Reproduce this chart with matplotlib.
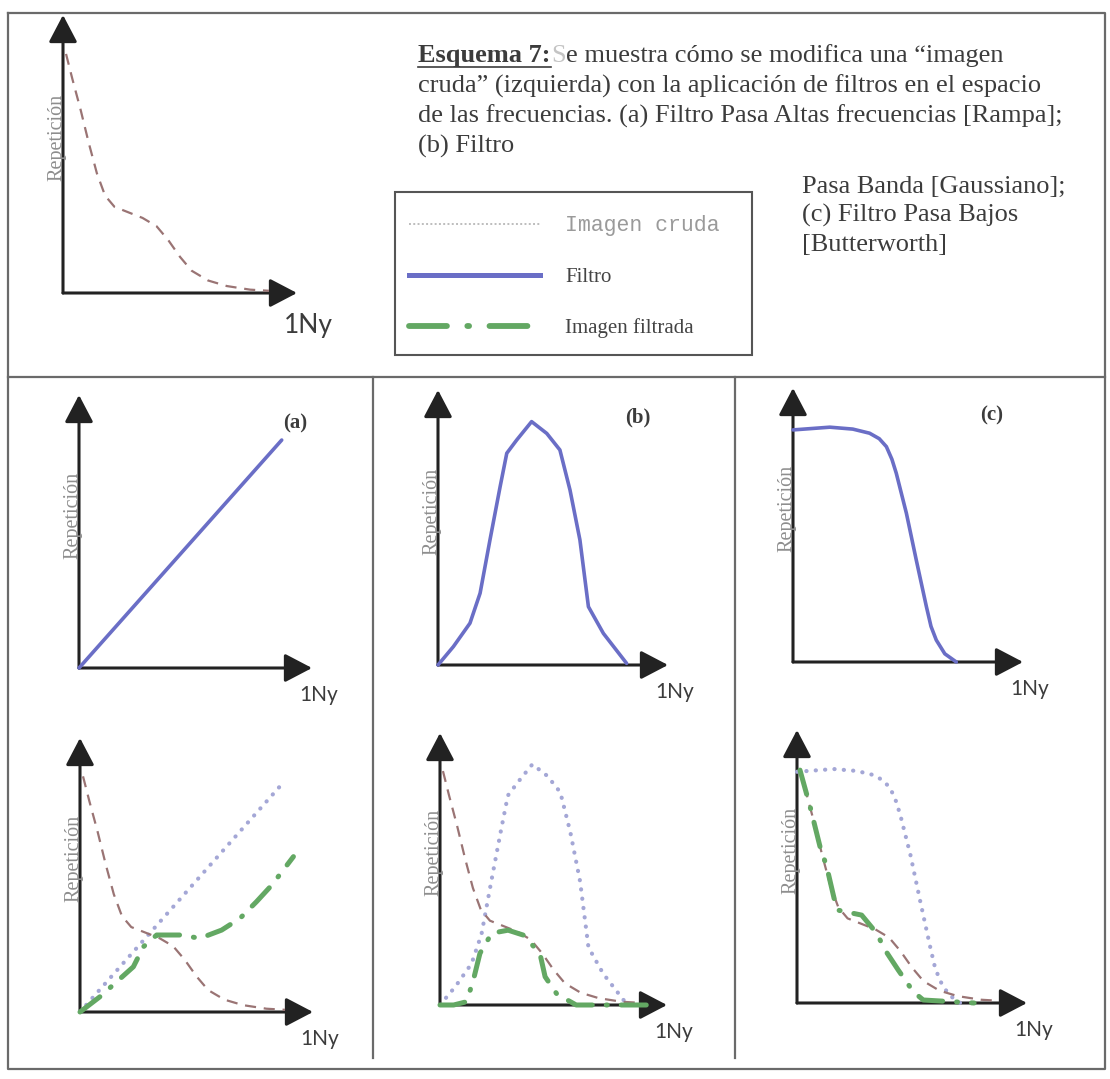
import matplotlib
matplotlib.use("Agg")
import matplotlib.pyplot as plt
from matplotlib.lines import Line2D
from matplotlib.patches import Rectangle
from matplotlib.transforms import offset_copy

# ---- data: x as fraction of the 1Ny axis, y as fraction of the Repeticion axis ----
raw_x = [0.013, 0.04, 0.075, 0.11, 0.145, 0.18, 0.22, 0.28, 0.34, 0.40, 0.45, 0.50, 0.55, 0.62, 0.70, 0.80, 0.88]
raw_y = [0.86, 0.77, 0.66, 0.54, 0.43, 0.35, 0.31, 0.29, 0.27, 0.24, 0.19, 0.13, 0.08, 0.045, 0.025, 0.012, 0.008]

# filters (top row)
ramp_x = [0.0, 0.87]
ramp_y = [0.0, 0.835]
gauss_x = [0.0, 0.067, 0.139, 0.183, 0.226, 0.27, 0.299, 0.342, 0.407, 0.473, 0.53, 0.574, 0.617, 0.654, 0.719, 0.82]
gauss_y = [0.0, 0.067, 0.152, 0.261, 0.455, 0.648, 0.77, 0.818, 0.885, 0.842, 0.782, 0.636, 0.455, 0.212, 0.115, 0.006]
butter_x = [0.0, 0.16, 0.26, 0.333, 0.375, 0.406, 0.43, 0.449, 0.493, 0.536, 0.58, 0.60, 0.623, 0.66, 0.71]
butter_y = [0.847, 0.857, 0.85, 0.835, 0.815, 0.786, 0.74, 0.689, 0.543, 0.372, 0.202, 0.13, 0.08, 0.03, 0.0]

# filtered images (bottom row)
filt_a_x = [0.0, 0.086, 0.229, 0.272, 0.329, 0.429, 0.515, 0.608, 0.687, 0.758, 0.823, 0.916]
filt_a_y = [0.0, 0.056, 0.165, 0.238, 0.281, 0.281, 0.269, 0.299, 0.342, 0.403, 0.463, 0.567]
filt_b_x = [0.0, 0.06, 0.117, 0.147, 0.176, 0.228, 0.30, 0.367, 0.44, 0.463, 0.515, 0.60, 0.75, 0.95]
filt_b_y = [0.0, 0.0, 0.012, 0.092, 0.19, 0.264, 0.275, 0.257, 0.19, 0.104, 0.04, 0.0, 0.0, 0.0]
filt_c_x = [0.013, 0.057, 0.1, 0.129, 0.173, 0.281, 0.347, 0.383, 0.44, 0.506, 0.549, 0.77]
filt_c_y = [0.853, 0.719, 0.573, 0.5, 0.341, 0.322, 0.255, 0.194, 0.121, 0.041, 0.011, 0.0]

panel_labels = ["(a)", "(b)", "(c)"]
y_label = "Repetición"
x_label = "1Ny"
legend_labels = ["Imagen cruda", "Filtro", "Imagen filtrada"]
caption_rest = [
    "cruda\u201d (izquierda) con la aplicación de filtros en el espacio",
    "de las frecuencias. (a) Filtro Pasa Altas frecuencias [Rampa];",
    "(b) Filtro",
]
side_lines = ["Pasa Banda [Gaussiano];", "(c) Filtro Pasa Bajos", "[Butterworth]"]

# ---- styles ----
RAW = dict(color="#9a7474", lw=1.6, ls=(0, (5, 3.5)), zorder=4)
FILT = dict(color="#6a6ec6", lw=2.6, solid_capstyle="round", zorder=5)
FILT_DOT = dict(color="#a4a7d6", lw=3.0, ls=(0, (0.05, 2.2)), dash_capstyle="round", zorder=4)
GREEN = dict(color="#63a863", lw=3.6, ls=(0, (5, 2.8, 0.2, 2.8)), dash_capstyle="round", zorder=6)
TXT = "#3c3c3c"
SERIF = "Liberation Serif"

W, H = 1110, 1079
fig = plt.figure(figsize=(W / 100, H / 100), dpi=100)
base = fig.add_axes([0, 0, 1, 1])
base.set_xlim(0, W)
base.set_ylim(H, 0)
base.axis("off")

# frame
fc = dict(color="#6a6a6a", lw=1.6)
base.plot([8, 1105, 1105, 8, 8], [13, 13, 1069, 1069, 13], **fc)
base.plot([8, 1105], [377, 377], **fc)
base.plot([373, 373], [377, 1058], **fc)
base.plot([735, 735], [377, 1058], **fc)


def mini_axes(ox, oy, xt, yt, nyx=26, nyy=-27, nysize=15):
    ax = fig.add_axes([ox / W, 1 - oy / H, (xt - ox) / W, (oy - yt) / H])
    ax.set_xlim(0, 1)
    ax.set_ylim(0, 1)
    ax.axis("off")
    ap = dict(arrowstyle="-|>,head_length=1.05,head_width=0.55", mutation_scale=16,
              lw=2.2, color="#222222", shrinkA=0, shrinkB=0)
    ax.annotate("", xy=(1, 0), xytext=(0, 0), xycoords="axes fraction", arrowprops=ap)
    ax.annotate("", xy=(0, 1), xytext=(0, 0), xycoords="axes fraction", arrowprops=ap)
    ax.text(0, 0.56, y_label, transform=offset_copy(ax.transAxes, fig=fig, x=3, y=0, units="dots"),
            rotation=90, ha="right", va="center", fontsize=14.5, family=SERIF, color="#8e8e8e", zorder=3)
    ax.text(1, 0, x_label, transform=offset_copy(ax.transAxes, fig=fig, x=nyx, y=nyy, units="dots"),
            ha="right", va="center", fontsize=nysize, family="Lato", color=TXT)
    return ax


# raw image (top left)
ax0 = mini_axes(63, 293, 297, 15, nyx=36, nyy=-32, nysize=19)
ax0.plot(raw_x, raw_y, clip_on=False, **RAW)

# filters
top_pos = [(79, 668, 312, 395), (438, 665, 668, 390), (793, 662, 1023, 388)]
bot_pos = [(80, 1012, 313, 738), (440, 1005, 667, 733), (797, 1003, 1027, 730)]
filters = [(ramp_x, ramp_y), (gauss_x, gauss_y), (butter_x, butter_y)]
filtered = [(filt_a_x, filt_a_y), (filt_b_x, filt_b_y), (filt_c_x, filt_c_y)]
label_pos = [(295, 423), (638, 417), (992, 415)]

for i in range(3):
    axt = mini_axes(*top_pos[i])
    axt.plot(filters[i][0], filters[i][1], clip_on=False, **FILT)
    base.text(label_pos[i][0], label_pos[i][1], panel_labels[i], ha="center", va="center",
              fontsize=15, fontweight="bold", family=SERIF, color=TXT)

    axb = mini_axes(*bot_pos[i])
    axb.plot(filters[i][0], filters[i][1], clip_on=False, **FILT_DOT)
    axb.plot(raw_x, raw_y, clip_on=False, **RAW)
    axb.plot(filtered[i][0], filtered[i][1], clip_on=False, **GREEN)

# caption
r = fig.canvas.get_renderer()
cs = 19
t = base.text(418, 62, "Esquema 7:", fontsize=cs, fontweight="bold", family=SERIF, color=TXT, va="baseline")
x_end = t.get_window_extent(r).x1
base.plot([418, x_end], [67, 67], color=TXT, lw=1.2)
t = base.text(x_end + 1, 62, "S", fontsize=cs, family=SERIF, color="#c4c4c4", va="baseline")
x_end = t.get_window_extent(r).x1
base.text(x_end, 62, "e muestra cómo se modifica una \u201cimagen", fontsize=cs, family=SERIF,
          color=TXT, va="baseline")
for k, line in enumerate(caption_rest):
    base.text(418, 93 + 30 * k, line, fontsize=cs, family=SERIF, color=TXT, va="baseline")
for k, line in enumerate(side_lines):
    base.text(802, 193 + 29 * k, line, fontsize=cs, family=SERIF, color=TXT, va="baseline")

# legend
base.add_patch(Rectangle((395, 192), 357, 163, fill=False, edgecolor="#555555", lw=1.5))
handles = [
    Line2D([], [], color="#bdbdbd", lw=1.4, ls=(0, (1, 1.2))),
    Line2D([], [], color="#6a6ec6", lw=3.6),
    Line2D([], [], color="#63a863", lw=4.2, ls=(0, (6.5, 3.5, 0.3, 3.5)), dash_capstyle="round"),
]
leg = fig.legend(handles, legend_labels, loc="upper left", bbox_to_anchor=(409 / W, 1 - 215 / H),
                 frameon=False, prop=dict(family=SERIF, size=15), handlelength=6.3,
                 handletextpad=1.2, labelspacing=1.5, borderpad=0, borderaxespad=0)
lt = leg.get_texts()
lt[0].set_family("Liberation Mono")
lt[0].set_fontsize(15.5)
lt[0].set_color("#9a9a9a")
for tt in lt[1:]:
    tt.set_color("#444444")

fig.savefig("out.png", dpi=100)
